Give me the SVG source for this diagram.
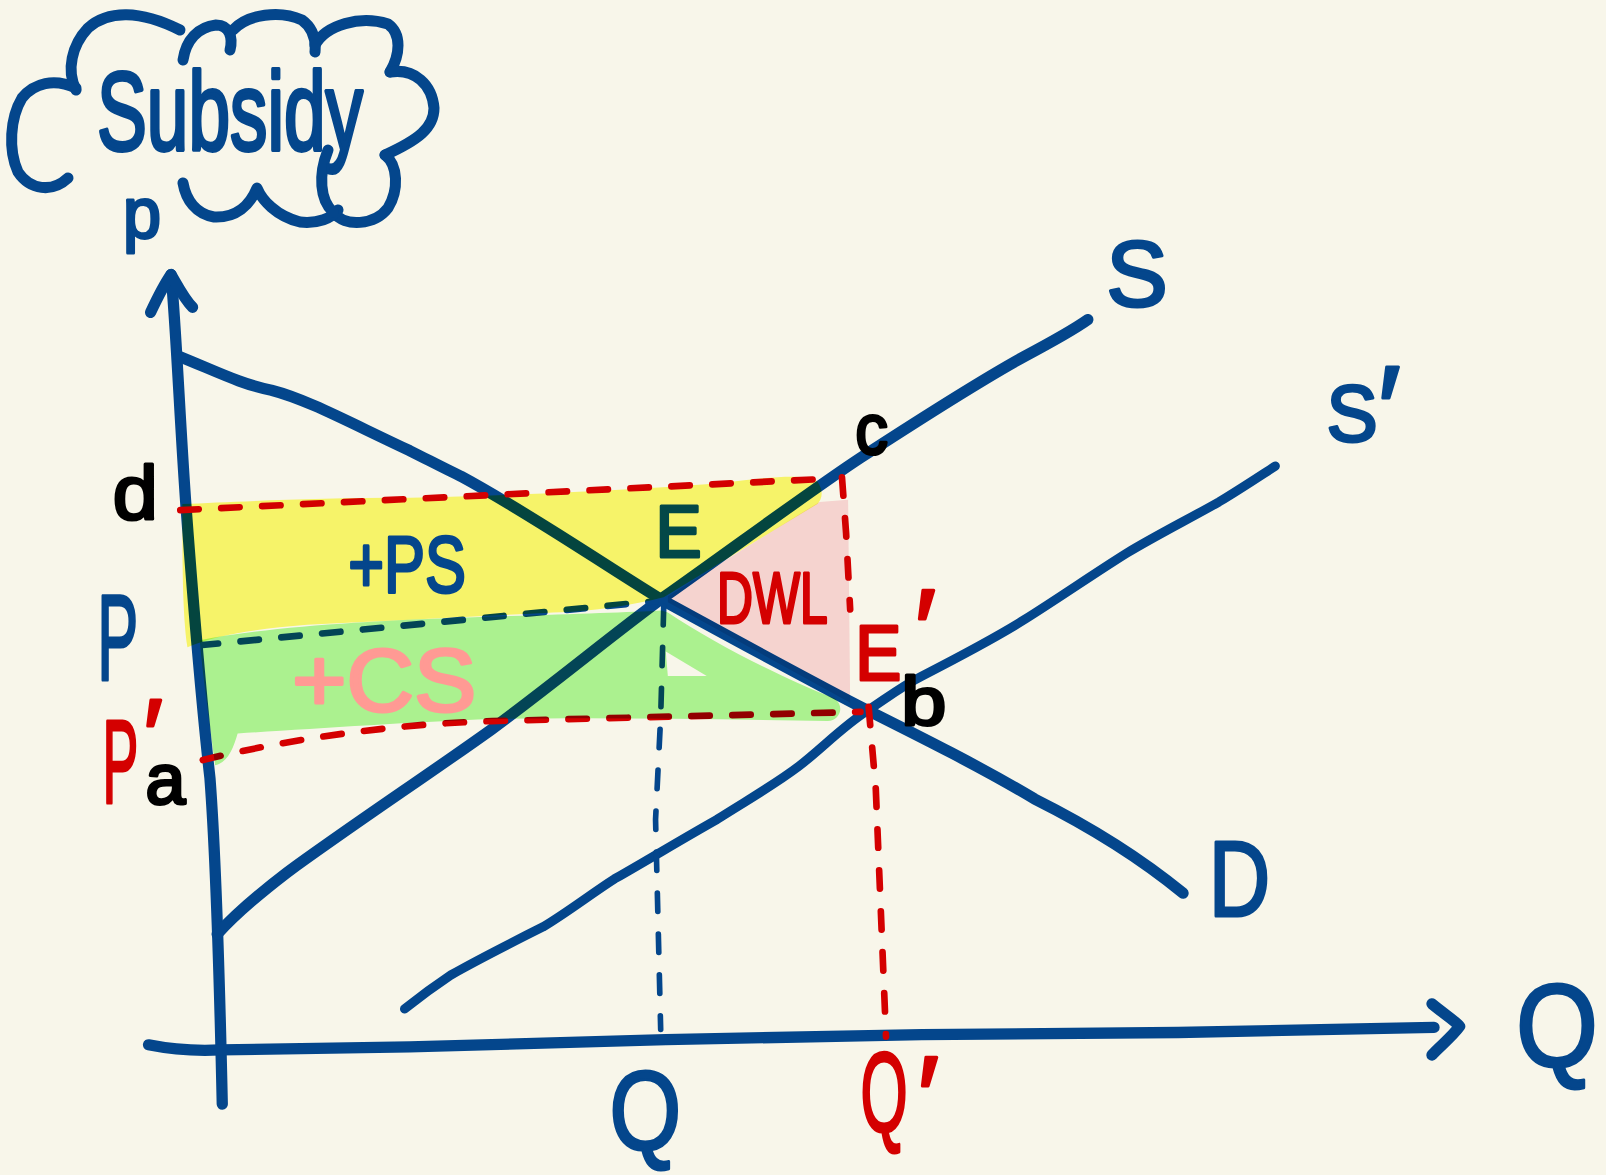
<svg xmlns="http://www.w3.org/2000/svg" width="1606" height="1175" viewBox="0 0 1606 1175">
<style>
.ink{fill:none;stroke:#04468c;stroke-width:11;stroke-linecap:round;stroke-linejoin:round}
.rdash{fill:none;stroke:#d40000;stroke-width:6.5;stroke-linecap:round;stroke-dasharray:18 22}
.bdash{fill:none;stroke:#04468c;stroke-width:6.5;stroke-linecap:round;stroke-dasharray:18 22}
.hl{mix-blend-mode:multiply;stroke:none}
.t{font-family:"Liberation Sans","DejaVu Sans",sans-serif;stroke-linejoin:round}
.blue{fill:#04468c;stroke:#04468c;stroke-width:3}
.red{fill:#d40000;stroke:#d40000;stroke-width:3}
.blk{fill:#000;stroke:#000;stroke-width:3}
</style>
<rect width="1606" height="1175" fill="#f8f6ea"/>
<g id="title-cloud" class="ink" style="stroke-width:11">
<path d="M76,90 C66,70 72,45 88,28 C108,10 140,10 180,30"/>
<path d="M183,60 C186,40 198,27 216,25 C230,25 233,38 230,50"/>
<path d="M233,30 C248,14 280,10 302,20 C313,28 316,40 315,52"/>
<path d="M315,45 C326,25 360,15 388,24 C402,34 400,55 390,72"/>
<path d="M390,72 C415,68 432,85 434,108 C434,128 418,140 385,155"/>
<path d="M385,155 C398,165 399,190 388,208 C375,225 345,228 333,212"/>
<path d="M183,183 C186,200 196,214 214,217 C236,218 250,205 257,188 C262,200 276,216 300,222 C318,224 332,218 338,210"/>
<path d="M68,178 C52,193 30,190 18,172 C8,150 10,118 22,98 C34,83 54,78 76,88"/>
<path d="M333,212 C320,200 318,175 328,150"/>
<text class="t blue" x="97" y="150" font-size="112" textLength="266" lengthAdjust="spacingAndGlyphs" style="stroke-width:4">Subsidy</text>
<text class="t blue" x="123" y="238" font-size="72" textLength="38" lengthAdjust="spacingAndGlyphs">p</text>
</g>
<g transform="scale(1.0243)">
<g id="axes">
<path class="ink" d="M167,268 C172,320 176,420 182,500 C188,580 196,680 205,760 C211,840 214,940 217,1078"/>
<path class="ink" d="M147,305 C155,288 160,278 167,268 C174,280 180,292 188,300"/>
<path class="ink" d="M145,1020 C175,1026 195,1026 215,1025 L400,1022 L650,1015 L900,1010 L1150,1008 L1400,1003"/>
<path class="ink" d="M1398,980 C1410,990 1420,996 1425,1002 C1418,1012 1405,1022 1398,1030"/>
</g>
<g id="curve-S-prime"><path class="ink" style="stroke-width:9" d="M395,985 C410,973 425,962 440,952 C470,935 500,920 530,905 C555,890 578,872 600,858 C635,838 668,818 700,800 C728,782 755,767 780,748 C802,731 822,710 845,695 C865,682 880,670 900,660 C935,642 968,625 1000,605 C1035,583 1068,560 1100,540 C1130,522 1160,507 1190,490 C1210,478 1228,466 1245,455"/></g>
<g id="curve-S"><path class="ink" d="M212,912 C230,892 250,875 280,852 C340,808 420,755 480,712 C540,668 600,618 648,583 C720,532 790,480 840,447 C900,408 960,370 1000,348 C1030,332 1048,322 1062,312"/></g>
<g id="curve-D"><path class="ink" d="M175,348 C210,362 235,375 265,381 C300,390 340,412 400,440 C420,450 435,458 450,465 C520,503 580,545 645,585 C700,615 760,648 840,690 C900,720 960,750 1010,780 C1060,805 1110,835 1155,872"/></g>
<g id="connectors">
<path class="rdash" d="M176,498 L795,468"/>
<path class="rdash" d="M822,466 L826,520 L830,595"/>
<path class="rdash" d="M848,690 L855,770 L865,1012"/>
<path class="bdash" d="M195,630 L640,587"/>
<path class="bdash" style="stroke-width:5.5" d="M648,592 L645,700 L640,800 L645,1005"/>
<path class="rdash" d="M198,742 C280,722 380,707 480,704 L840,695"/>
</g>
<g id="highlights">
<path class="hl" fill="#fdfc72" d="M178,492 C230,490 300,486 400,486 C500,484 620,478 700,472 C750,466 785,462 798,470 C805,480 802,488 798,492 L648,583 C620,590 580,597 540,598 C460,602 380,606 300,610 C250,614 210,620 183,632 C178,600 178,540 178,492 Z"/>
<path class="hl" fill="#fcdbe2" d="M652,582 L800,490 L828,488 L830,686 L652,588 Z"/>
<path class="hl" fill="#b0fa9c" d="M195,625 C260,612 360,606 450,603 C540,600 610,598 646,596 L652,598 C700,630 770,665 815,682 C825,690 820,703 808,704 C700,702 580,700 480,702 C400,705 300,712 232,716 C228,730 222,745 210,747 C204,700 198,660 195,625 Z"/>
<path fill="#f8f6ea" d="M650,636 L690,660 L652,660 Z"/>
</g>
<g id="labels">
<text class="t blk" x="110" y="507" font-size="75" textLength="44" lengthAdjust="spacingAndGlyphs">d</text>
<text class="t blue" x="95" y="664" font-size="120" textLength="40" lengthAdjust="spacingAndGlyphs">P</text>
<text class="t red" x="100" y="784" font-size="115" textLength="35" lengthAdjust="spacingAndGlyphs">P</text>
<text class="t red" x="140" y="752" font-size="100">′<tspan x="142" y="785" font-size="70" fill="#000" stroke="#000">a</tspan></text>
<text class="t blue" x="340" y="578" font-size="78" textLength="115" lengthAdjust="spacingAndGlyphs">+PS</text>
<text class="t" x="640" y="544" font-size="72" textLength="45" lengthAdjust="spacingAndGlyphs" fill="#034848" stroke="#034848" stroke-width="3">E</text>
<text class="t red" x="700" y="608" font-size="70" textLength="108" lengthAdjust="spacingAndGlyphs">DWL</text>
<text class="t red" x="835" y="664" font-size="76"><tspan textLength="45" lengthAdjust="spacingAndGlyphs">E</tspan><tspan x="893" y="652" font-size="110">′</tspan></text>
<text class="t blk" x="880" y="708" font-size="66" textLength="44" lengthAdjust="spacingAndGlyphs">b</text>
<text class="t blk" x="835" y="443" font-size="70" textLength="32" lengthAdjust="spacingAndGlyphs">c</text>
<text class="t" x="285" y="694" font-size="86" textLength="180" lengthAdjust="spacingAndGlyphs" fill="#ff9a94" stroke="#ff9a94" stroke-width="3">+CS</text>
<text class="t blue" x="595" y="1122" font-size="108" textLength="70" lengthAdjust="spacingAndGlyphs">Q</text>
<text class="t red" x="840" y="1105" font-size="110"><tspan textLength="46" lengthAdjust="spacingAndGlyphs">Q</tspan><tspan x="896" y="1108" font-size="110">′</tspan></text>
<text class="t blue" x="1480" y="1042" font-size="115" textLength="80" lengthAdjust="spacingAndGlyphs">Q</text>
<text class="t blue" x="1080" y="299" font-size="90" textLength="60" lengthAdjust="spacingAndGlyphs">S</text>
<text class="t blue" x="1295" y="431" font-size="78"><tspan textLength="50" lengthAdjust="spacingAndGlyphs">S</tspan><tspan x="1345" y="440" font-size="120">′</tspan></text>
<text class="t blue" x="1180" y="894" font-size="105" textLength="60" lengthAdjust="spacingAndGlyphs">D</text>
</g>
</g>
</svg>
